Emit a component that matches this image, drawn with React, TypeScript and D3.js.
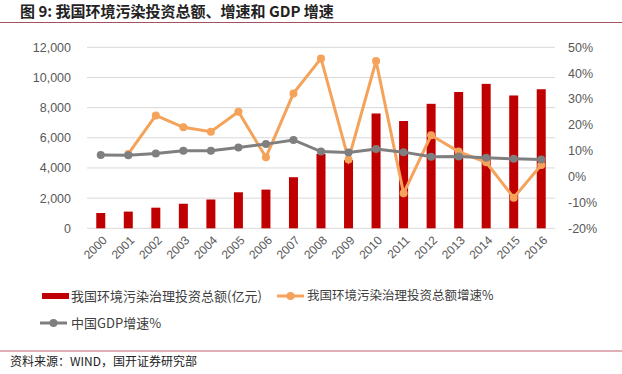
import React from "react";
import * as d3 from "d3";

const years = ["2000","2001","2002","2003","2004","2005","2006","2007","2008","2009","2010","2011","2012","2013","2014","2015","2016"];
const investment = [1015, 1107, 1367, 1628, 1910, 2388, 2566, 3387, 4937, 4525, 7612, 7114, 8253, 9037, 9575, 8806, 9220];
const investGrowth = [null, 8.8, 23.7, 19.1, 17.4, 25.1, 7.5, 32.2, 45.7, 6.7, 44.7, -6.4, 16.0, 9.7, 5.6, -8.1, 4.5];
const gdpGrowth = [8.4, 8.3, 9.0, 10.0, 10.0, 11.3, 12.6, 14.2, 9.7, 9.4, 10.7, 9.5, 7.7, 7.8, 7.3, 6.9, 6.7];
const leftTicks = [0, 2000, 4000, 6000, 8000, 10000, 12000];
const rightTicks = [-20, -10, 0, 10, 20, 30, 40, 50];

const W = 622, H = 374;
const RED = "#C00000", ORANGE = "#F5A25A", GRAY = "#7F7F7F";
const CJK = "'Noto Sans CJK SC', sans-serif";
const NUM = "'Liberation Sans', Arial, sans-serif";

const App = () => {
  const x = d3.scaleBand().domain(years).range([87, 555]);
  const yL = d3.scaleLinear().domain([0, 12000]).range([228.3, 47.3]);
  const yR = d3.scaleLinear().domain([-20, 50]).range([228.5, 47.3]);
  const cx = (y: string) => (x(y) as number) + x.bandwidth() / 2;
  const bw = 9;
  const fmt = d3.format(",");

  const growthPts = years.map((y, i) => ({ y, v: investGrowth[i] }));
  const gdpPts = years.map((y, i) => ({ y, v: gdpGrowth[i] }));
  const line = d3.line<{ y: string; v: number | null }>()
    .defined(d => d.v !== null)
    .x(d => cx(d.y))
    .y(d => yR(d.v as number));

  return (
    <svg width={W} height={H} style={{ position: "absolute", left: 0, top: 0, background: "#fff" }}>
      <rect width={W} height={H} fill="#fff" />
      <text x={20} y={17} fontFamily={CJK} fontWeight="bold" fontSize={15} fill="#222">图 9:  我国环境污染投资总额、增速和 GDP 增速</text>
      <line x1={0} x2={W} y1={22.5} y2={22.5} stroke="#A0525E" strokeWidth={1.2} />

      {leftTicks.map(t => (
        <line key={t} x1={87} x2={555} y1={yL(t)} y2={yL(t)} stroke="#D9D9D9" strokeWidth={1} />
      ))}
      {leftTicks.map(t => (
        <text key={t} x={71} y={yL(t)} dy="0.35em" textAnchor="end" fontFamily={NUM} fontSize={12.5} fill="#595959">{fmt(t)}</text>
      ))}
      {rightTicks.map(t => (
        <text key={t} x={568} y={yR(t)} dy="0.35em" fontFamily={NUM} fontSize={12.5} fill="#595959">{t}%</text>
      ))}
      {years.map(y => (
        <text key={y} transform={`translate(${cx(y) + 4},${238}) rotate(-45)`} textAnchor="end" dy="0.35em" fontFamily={NUM} fontSize={12} fill="#595959">{y}</text>
      ))}

      {years.map((y, i) => (
        <rect key={y} x={cx(y) - bw / 2} width={bw} y={yL(investment[i])} height={yL(0) - yL(investment[i])} fill={RED} />
      ))}

      <path d={line(growthPts) || ""} fill="none" stroke={ORANGE} strokeWidth={3} />
      {growthPts.filter(d => d.v !== null).map(d => (
        <circle key={d.y} cx={cx(d.y)} cy={yR(d.v as number)} r={4} fill={ORANGE} />
      ))}
      <path d={line(gdpPts) || ""} fill="none" stroke={GRAY} strokeWidth={3} />
      {gdpPts.map(d => (
        <circle key={d.y} cx={cx(d.y)} cy={yR(d.v as number)} r={4} fill={GRAY} />
      ))}

      <rect x={42} y={293} width={27} height={6} fill={RED} />
      <text x={71} y={296} dy="0.35em" fontFamily={CJK} fontSize={13} fill="#404040">我国环境污染治理投资总额(亿元)</text>
      <line x1={277} x2={304} y1={296} y2={296} stroke={ORANGE} strokeWidth={3} />
      <circle cx={290.5} cy={296} r={4} fill={ORANGE} />
      <text x={307} y={296} dy="0.35em" fontFamily={CJK} fontSize={12.5} fill="#404040">我国环境污染治理投资总额增速%</text>
      <line x1={40} x2={67} y1={323} y2={323} stroke={GRAY} strokeWidth={3} />
      <circle cx={53.5} cy={323} r={4} fill={GRAY} />
      <text x={71} y={323} dy="0.35em" fontFamily={CJK} fontSize={13} fill="#404040">中国GDP增速%</text>

      <line x1={0} x2={W} y1={351} y2={351} stroke="#C06070" strokeWidth={1} />
      <text x={10} y={362} dy="0.35em" fontFamily={CJK} fontSize={12} fill="#222">资料来源：WIND，国开证券研究部</text>
    </svg>
  );
};

export default App;
